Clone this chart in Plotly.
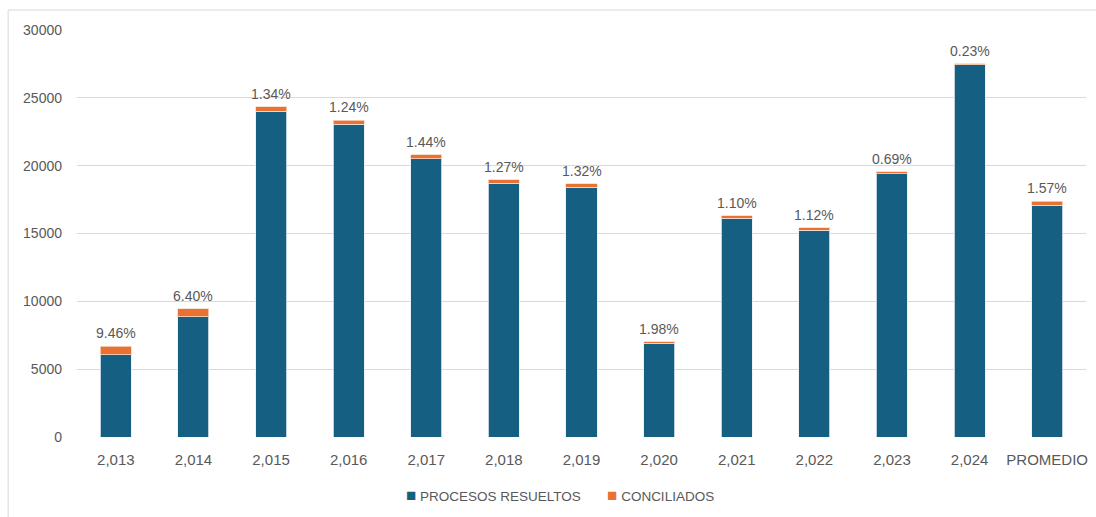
import plotly.graph_objects as go

categories = ["2,013", "2,014", "2,015", "2,016", "2,017", "2,018", "2,019",
              "2,020", "2,021", "2,022", "2,023", "2,024", "PROMEDIO"]
procesos_resueltos = [6070, 8850, 24000, 23060, 20500, 18710, 18410,
                      6900, 16120, 15250, 19400, 27440, 17100]
conciliados = [634, 605, 326, 290, 300, 240, 246, 139, 179, 173, 135, 63, 273]
pct_labels = ["9.46%", "6.40%", "1.34%", "1.24%", "1.44%", "1.27%", "1.32%",
              "1.98%", "1.10%", "1.12%", "0.69%", "0.23%", "1.57%"]
y_ticks = [0, 5000, 10000, 15000, 20000, 25000, 30000]

BLUE = "#156082"
ORANGE = "#E97132"
TEXT = "#595959"
FONT = "Liberation Sans"

fig = go.Figure()
fig.add_trace(go.Bar(
    x=categories, y=procesos_resueltos, name="PROCESOS RESUELTOS",
    marker=dict(color=BLUE, line=dict(color="#e8eef2", width=0.8)),
))
fig.add_trace(go.Bar(
    x=categories, y=conciliados, name="CONCILIADOS",
    marker=dict(color=ORANGE, line=dict(color="#f5d9c8", width=0.8)),
))

annotations = []
for c, a, b, lab in zip(categories, procesos_resueltos, conciliados, pct_labels):
    annotations.append(dict(x=c, y=a + b, text=lab, showarrow=False,
                            yanchor="bottom", yshift=3,
                            font=dict(family=FONT, size=14, color=TEXT)))

L, R, T, B = 77, 8, 30, 80
W, H = 1096, 517
pw, ph = W - L - R, H - T - B

legend_text = ("<span style='color:%s;font-size:17px'>■</span> PROCESOS RESUELTOS"
               "       <span style='color:%s;font-size:17px'>■</span> CONCILIADOS") % (BLUE, ORANGE)
annotations.append(dict(xref="paper", yref="paper", x=(561 - L) / pw, y=-(495 - (H - B)) / ph,
                        xanchor="center", yanchor="middle", showarrow=False,
                        text=legend_text, font=dict(family=FONT, size=13.5, color=TEXT)))

fig.update_layout(
    width=W, height=H,
    barmode="stack", bargap=0.6,
    margin=dict(l=L, r=R, t=T, b=B),
    paper_bgcolor="white", plot_bgcolor="white",
    font=dict(family=FONT, size=14, color=TEXT),
    showlegend=False,
    annotations=annotations,
    xaxis=dict(showline=False, ticks="", ticklabelstandoff=12,
               tickfont=dict(size=15, color=TEXT)),
    yaxis=dict(range=[0, 30000], tickvals=y_ticks, ticktext=[str(v) for v in y_ticks],
               showgrid=True, gridcolor="#d9d9d9", gridwidth=1,
               zeroline=True, zerolinecolor="white", showline=False, ticks="",
               ticklabelstandoff=14, tickfont=dict(size=14, color=TEXT)),
    shapes=[
        dict(type="line", xref="paper", yref="paper",
             x0=(8 - L) / pw, x1=1.1, y0=1 + (T - 10) / ph, y1=1 + (T - 10) / ph,
             line=dict(color="#d9d9d9", width=1)),
        dict(type="line", xref="paper", yref="paper",
             x0=(8 - L) / pw, x1=(8 - L) / pw, y0=1 + (T - 10) / ph, y1=-0.3,
             line=dict(color="#d9d9d9", width=1)),
    ],
)

fig.write_html("out.html")
